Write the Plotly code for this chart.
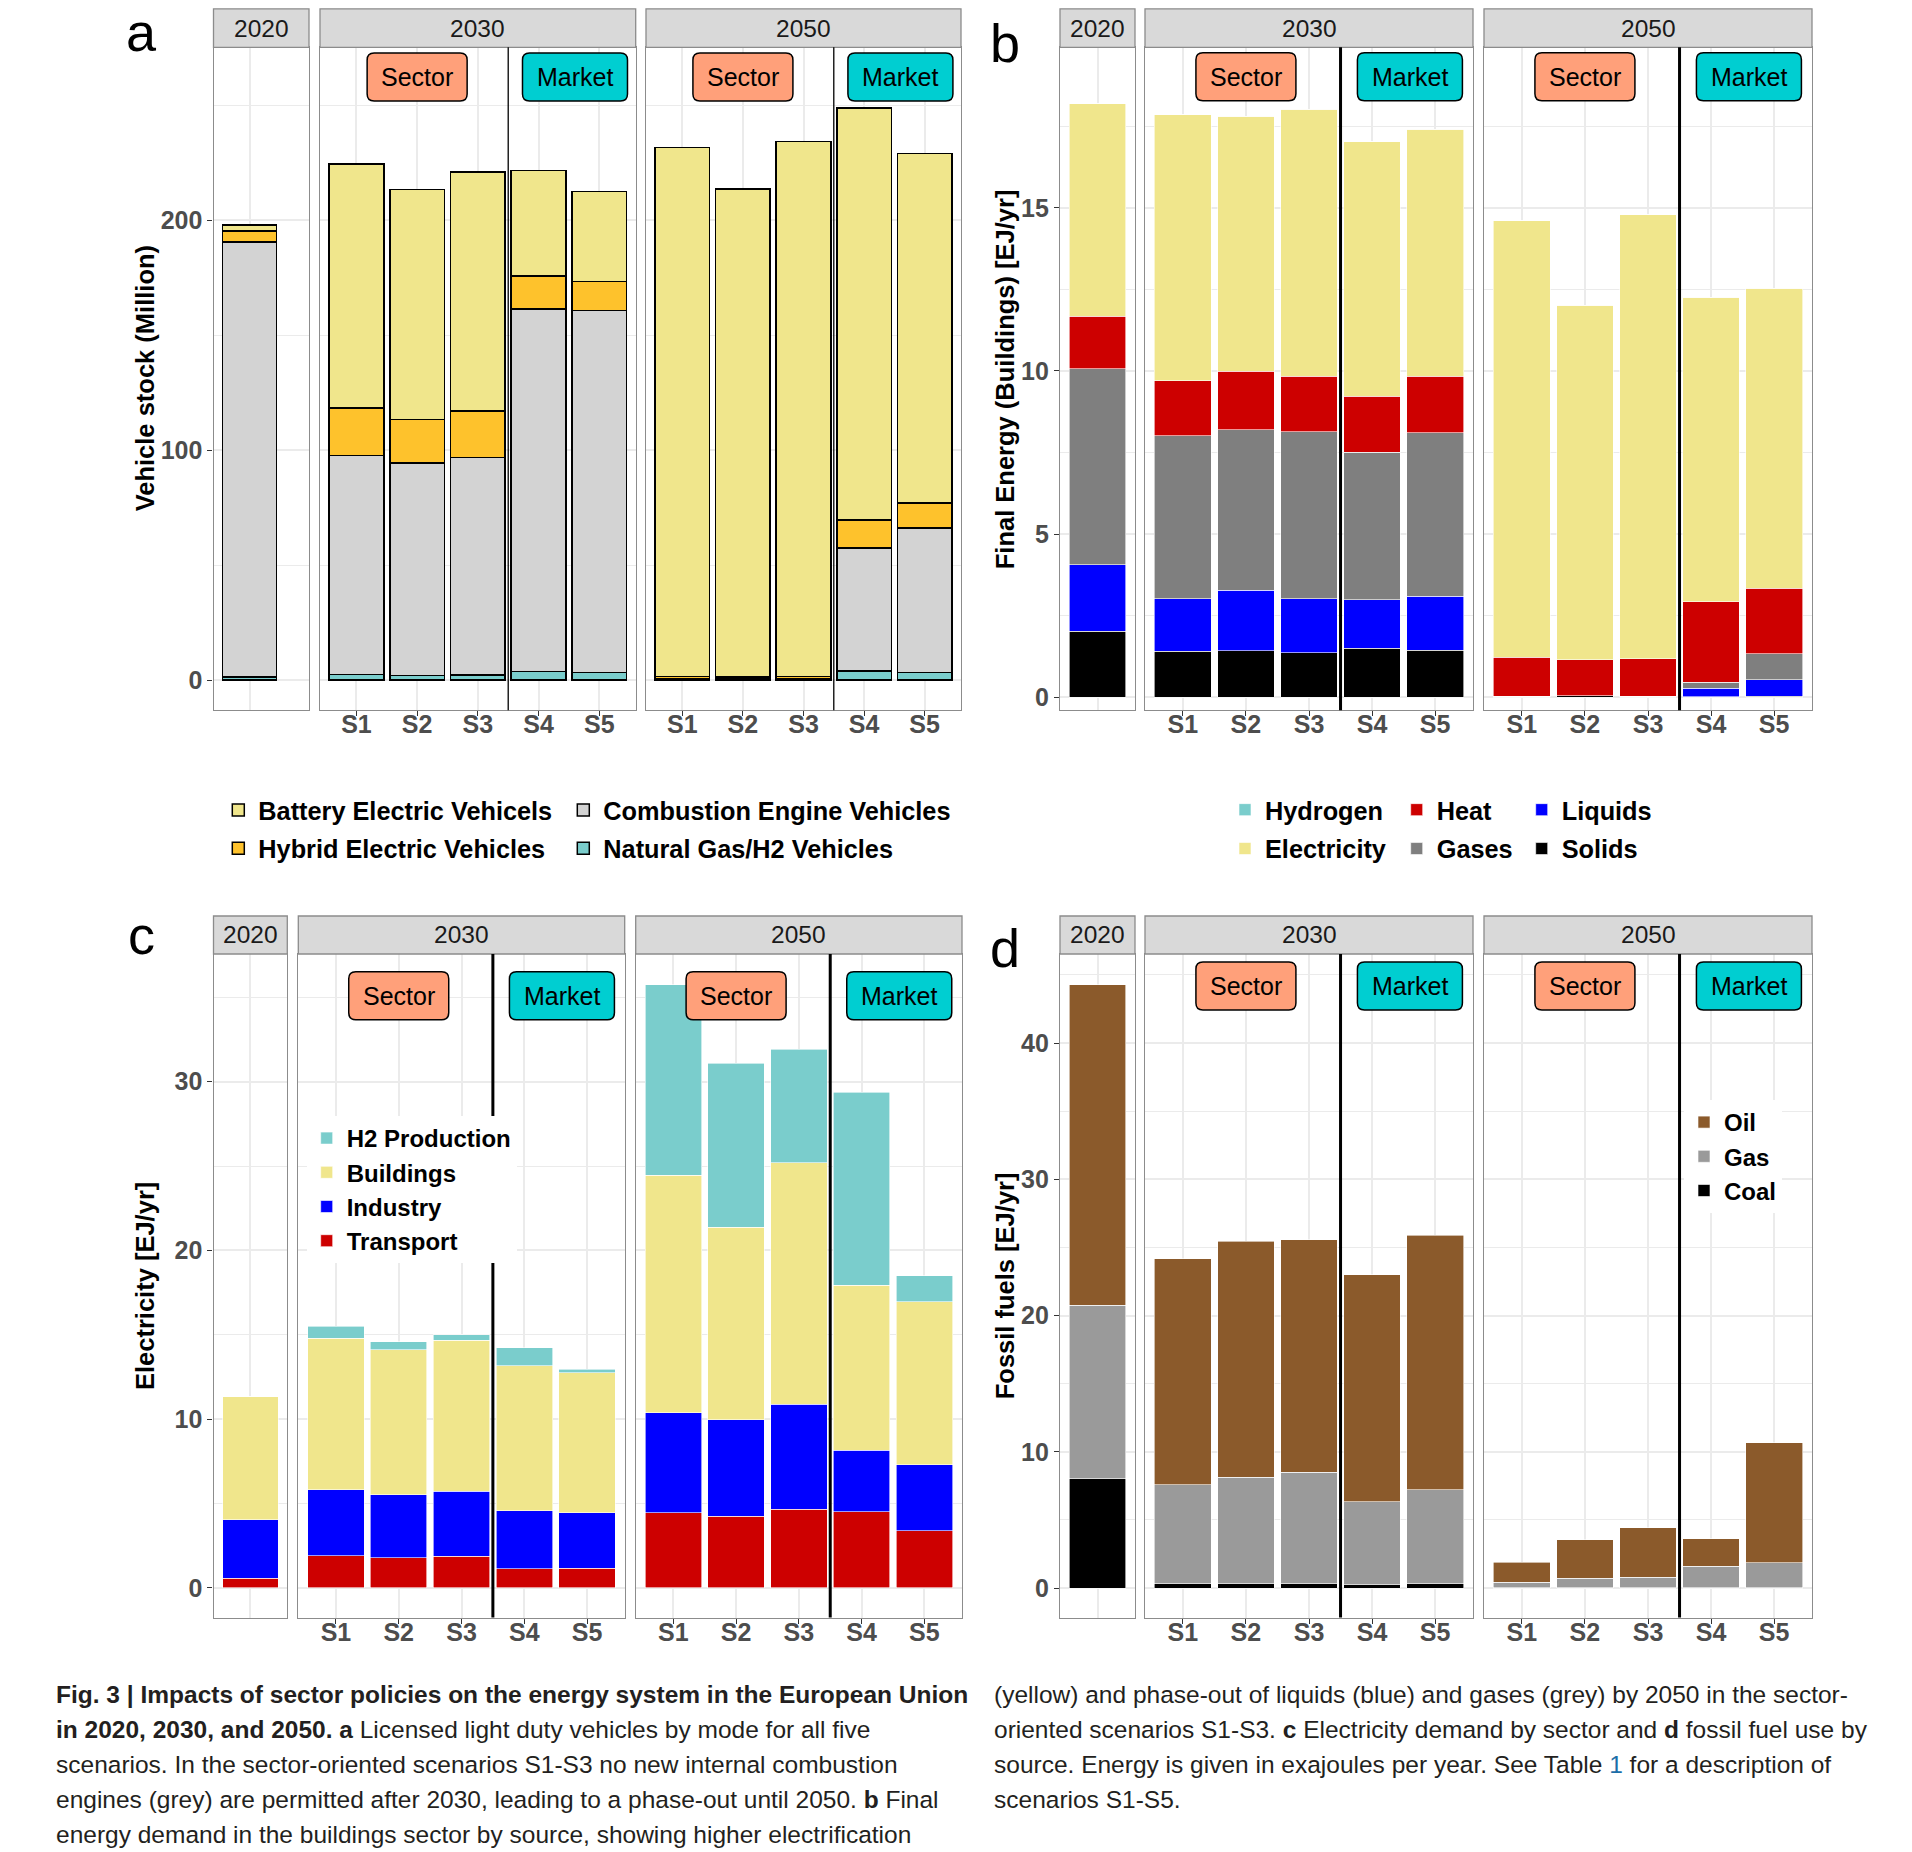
import plotly.graph_objects as go

W, H = 1912, 1852

# ---------------- data ----------------
years = ["2020", "2030", "2050"]
scenarios = ["S1", "S2", "S3", "S4", "S5"]
x_2020 = ["2020"]

# a: vehicle stock (million)
veh_ng = {"2020": [1.3], "2030": [2.5, 2.1, 2.3, 3.8, 3.2], "2050": [0.2, 0.2, 0.2, 4.0, 3.2]}
veh_ice = {"2020": [189.2], "2030": [95.3, 92.3, 94.6, 157.6, 157.6], "2050": [0.2, 0.2, 0.2, 53.5, 63.0]}
veh_hev = {"2020": [4.8], "2030": [20.5, 18.9, 20.2, 14.4, 12.7], "2050": [1.1, 1.0, 1.2, 12.1, 10.8]}
veh_bev = {"2020": [2.8], "2030": [106.3, 100.1, 103.9, 46.0, 39.0], "2050": [230.3, 212.2, 232.8, 179.4, 152.1]}

# b: final energy buildings (EJ/yr)
bld_solids = {"2020": [2.02], "2030": [1.41, 1.42, 1.36, 1.50, 1.44], "2050": [0.03, 0.05, 0.03, 0.02, 0.03]}
bld_liquids = {"2020": [2.04], "2030": [1.61, 1.86, 1.66, 1.49, 1.66], "2050": [0.0, 0.0, 0.0, 0.25, 0.51]}
bld_gases = {"2020": [6.01], "2030": [4.99, 4.92, 5.11, 4.51, 5.00], "2050": [0.0, 0.0, 0.0, 0.19, 0.79]}
bld_heat = {"2020": [1.61], "2030": [1.69, 1.79, 1.71, 1.72, 1.74], "2050": [1.20, 1.10, 1.15, 2.47, 2.01]}
bld_elec = {"2020": [6.51], "2030": [8.16, 7.82, 8.18, 7.80, 7.57], "2050": [13.37, 10.87, 13.61, 9.33, 9.19]}
bld_h2 = {"2020": [0.0], "2030": [0.0, 0.0, 0.0, 0.0, 0.0], "2050": [0.0, 0.0, 0.0, 0.0, 0.0]}

# c: electricity demand (EJ/yr)
el_transport = {"2020": [0.58], "2030": [1.92, 1.78, 1.88, 1.13, 1.16], "2050": [4.45, 4.25, 4.66, 4.52, 3.39]}
el_industry = {"2020": [3.46], "2030": [3.90, 3.73, 3.84, 3.46, 3.29], "2050": [5.93, 5.72, 6.23, 3.63, 3.90]}
el_buildings = {"2020": [7.30], "2030": [8.97, 8.60, 8.97, 8.59, 8.29], "2050": [14.07, 11.40, 14.32, 9.80, 9.66]}
el_h2 = {"2020": [0.0], "2030": [0.72, 0.48, 0.31, 1.07, 0.21], "2050": [11.30, 9.73, 6.71, 11.43, 1.54]}

# d: fossil fuels (EJ/yr)
ff_coal = {"2020": [8.06], "2030": [0.34, 0.34, 0.36, 0.25, 0.34], "2050": [0.02, 0.02, 0.02, 0.02, 0.02]}
ff_gas = {"2020": [12.69], "2030": [7.25, 7.81, 8.13, 6.07, 6.87], "2050": [0.40, 0.70, 0.79, 1.59, 1.85]}
ff_oil = {"2020": [23.54], "2030": [16.59, 17.31, 17.09, 16.68, 18.67], "2050": [1.49, 2.84, 3.60, 2.00, 8.78]}

group_labels = ["Sector", "Market"]

# ---------------- style ----------------
FONT = "Liberation Sans, Arial, sans-serif"
CAP_FONT = "Liberation Sans, Arial, sans-serif"
BORDER = "#8C8C8C"
GRID = "#EBEBEB"
TICKCOL = "#4D4D4D"

C_KHAKI = "#F0E68C"
C_HYB = "#FEC22C"
C_ICE = "#D3D3D3"
C_TEAL = "#7ACDCC"
C_RED = "#CD0000"
C_GASES = "#7F7F7F"
C_BLUE = "#0000FF"
C_BLACK = "#000000"
C_OIL = "#8B5A2B"
C_GAS = "#9A9A9A"
LABEL_FILL = {"Sector": "#FFA07A", "Market": "#00CED1"}

# geometry in picture pixels
TOP_PANEL = (47.3, 710.2)
TOP_STRIP = (8.8, 47.3)
BOT_PANEL = (954.0, 1617.5)
BOT_STRIP = (916.0, 954.0)
A_FACETS = [(213.5, 309.0), (320.0, 635.7), (646.0, 961.0)]
B_FACETS = [(1060.0, 1135.0), (1145.0, 1473.0), (1484.0, 1812.0)]
C_FACETS = [(213.5, 287.3), (298.3, 624.7), (635.7, 962.0)]

LETTER_SIZE = 54

panels = [
    dict(facets=A_FACETS, pane=TOP_PANEL, strip=TOP_STRIP, yrange=[-13.1, 275.3], dtick=100, mdtick=50,
         ytitle="Vehicle stock (Million)", ytitle_x=144.6, letter="a", letter_xb=(141, 50),
         label_y=262.4, line=("black", 1.5), sep_w=1.3, r2020=[-0.6, 0.99],
         series=[("Natural Gas/H2 Vehicles", C_TEAL, veh_ng, "legend2", 2),
                 ("Combustion Engine Vehicles", C_ICE, veh_ice, "legend2", 1),
                 ("Hybrid Electric Vehicles", C_HYB, veh_hev, "legend", 2),
                 ("Battery Electric Vehicels", C_KHAKI, veh_bev, "legend", 1)]),
    dict(facets=B_FACETS, pane=TOP_PANEL, strip=TOP_STRIP, yrange=[-0.4, 19.92], dtick=5, mdtick=2.5,
         ytitle="Final Energy (Buildings) [EJ/yr]", ytitle_x=1004.5, letter="b", letter_xb=(1005, 61),
         label_y=19.02, line=("white", 0.6), sep_w=3, r2020=[-0.6, 0.6],
         series=[("Solids", C_BLACK, bld_solids, "legend5", 2),
                 ("Liquids", C_BLUE, bld_liquids, "legend5", 1),
                 ("Gases", C_GASES, bld_gases, "legend4", 2),
                 ("Heat", C_RED, bld_heat, "legend4", 1),
                 ("Electricity", C_KHAKI, bld_elec, "legend3", 2),
                 ("Hydrogen", C_TEAL, bld_h2, "legend3", 1)]),
    dict(facets=C_FACETS, pane=BOT_PANEL, strip=BOT_STRIP, yrange=[-1.75, 37.57], dtick=10, mdtick=5,
         ytitle="Electricity [EJ/yr]", ytitle_x=144.3, letter="c", letter_xb=(141, 953),
         label_y=35.1, line=("white", 0.6), sep_w=3, r2020=[-0.6, 0.6],
         series=[("Transport", C_RED, el_transport, "legend6", 4),
                 ("Industry", C_BLUE, el_industry, "legend6", 3),
                 ("Buildings", C_KHAKI, el_buildings, "legend6", 2),
                 ("H2 Production", C_TEAL, el_h2, "legend6", 1)]),
    dict(facets=B_FACETS, pane=BOT_PANEL, strip=BOT_STRIP, yrange=[-2.16, 46.54], dtick=10, mdtick=5,
         ytitle="Fossil fuels [EJ/yr]", ytitle_x=1004.5, letter="d", letter_xb=(1005, 966),
         label_y=44.2, line=("white", 0.6), sep_w=3, r2020=[-0.6, 0.6],
         series=[("Coal", C_BLACK, ff_coal, "legend7", 3),
                 ("Gas", C_GAS, ff_gas, "legend7", 2),
                 ("Oil", C_OIL, ff_oil, "legend7", 1)]),
]

label_pos = {"Sector": 1.0, "Market": 3.6}
label_w = {"Sector": 100, "Market": 105}
LABEL_H = 48


def px(x):
    return x / W


def py(y):
    return 1 - y / H


def rrect(w, h, r):
    x0, x1, y0, y1 = -w / 2, w / 2, -h / 2, h / 2
    return (f"M{x0 + r},{y0} L{x1 - r},{y0} Q{x1},{y0} {x1},{y0 + r} L{x1},{y1 - r} "
            f"Q{x1},{y1} {x1 - r},{y1} L{x0 + r},{y1} Q{x0},{y1} {x0},{y1 - r} "
            f"L{x0},{y0 + r} Q{x0},{y0} {x0 + r},{y0} Z")


fig = go.Figure()
layout_axes = {}
shapes = []
annotations = []

for p_i, P in enumerate(panels):
    ptop, pbot = P["pane"]
    stop, sbot = P["strip"]
    for f_i, yr in enumerate(years):
        idx = p_i * 3 + f_i + 1
        sfx = "" if idx == 1 else str(idx)
        xa, ya = "x" + sfx, "y" + sfx
        xs = x_2020 if yr == "2020" else scenarios
        for name, color, data, leg, rank in P["series"]:
            fig.add_trace(go.Bar(
                x=xs, y=data[yr], name=name, width=0.9,
                marker=dict(color=color, line=dict(color=P["line"][0], width=P["line"][1])),
                xaxis=xa, yaxis=ya, legend=leg, legendgroup=name, legendrank=rank,
                showlegend=(f_i == 0),
            ))
        x0, x1 = P["facets"][f_i]
        is2020 = yr == "2020"
        layout_axes["xaxis" + sfx] = dict(
            domain=[px(x0), px(x1)], anchor=ya, type="category",
            range=P["r2020"] if is2020 else [-0.6, 4.6],
            showgrid=True, gridcolor=GRID, gridwidth=1.5, zeroline=False,
            showline=True, mirror=True, linecolor=BORDER, linewidth=1.3,
            ticks="" if is2020 else "outside", ticklen=5, tickwidth=1.3, tickcolor="#333333",
            showticklabels=not is2020, ticklabelstandoff=-13,
            tickfont=dict(family=FONT, size=25, color=TICKCOL, weight="bold"),
            fixedrange=True,
        )
        layout_axes["yaxis" + sfx] = dict(
            domain=[py(pbot), py(ptop)], anchor=xa, range=P["yrange"],
            tick0=0, dtick=P["dtick"],
            minor=dict(tick0=0, dtick=P["mdtick"], showgrid=True, gridcolor=GRID, gridwidth=0.8),
            showgrid=True, gridcolor=GRID, gridwidth=1.5, zeroline=False,
            showline=True, mirror=True, linecolor=BORDER, linewidth=1.3,
            ticks="outside" if is2020 else "", ticklen=5, tickwidth=1.3, tickcolor="#333333",
            showticklabels=is2020,
            tickfont=dict(family=FONT, size=25, color=TICKCOL, weight="bold"),
            fixedrange=True,
        )
        # facet strip
        shapes.append(dict(type="rect", xref="paper", yref="paper",
                           x0=px(x0), x1=px(x1), y0=py(sbot), y1=py(stop),
                           fillcolor="#D9D9D9", line=dict(color=BORDER, width=1.3), layer="above"))
        annotations.append(dict(xref="paper", yref="paper", x=px((x0 + x1) / 2), y=py((stop + sbot) / 2),
                                text=yr, showarrow=False, xanchor="center", yanchor="middle",
                                font=dict(family=FONT, size=24.5, color="#1A1A1A")))
        if not is2020:
            shapes.append(dict(type="line", xref=xa, yref=ya + " domain", x0=2.5, x1=2.5, y0=0, y1=1,
                               line=dict(color="black", width=P["sep_w"]), layer="above"))
            for lab in group_labels:
                shapes.append(dict(type="path", xref=xa, yref=ya, xsizemode="pixel", ysizemode="pixel",
                                   xanchor=label_pos[lab], yanchor=P["label_y"],
                                   path=rrect(label_w[lab], LABEL_H, 7),
                                   fillcolor=LABEL_FILL[lab], line=dict(color="black", width=1.5),
                                   layer="above"))
                annotations.append(dict(xref=xa, yref=ya, x=label_pos[lab], y=P["label_y"], text=lab,
                                        showarrow=False, xanchor="center", yanchor="middle",
                                        font=dict(family=FONT, size=25, color="black")))
    # y title
    annotations.append(dict(xref="paper", yref="paper", x=px(P["ytitle_x"]), y=py((ptop + pbot) / 2),
                            text="<b>" + P["ytitle"] + "</b>", textangle=-90, showarrow=False,
                            xanchor="center", yanchor="middle",
                            font=dict(family=FONT, size=25.5, color="black")))
    # panel letter (positioned by its baseline, box kept inside the picture)
    lx, lb = P["letter_xb"]
    ltop = max(0.5, lb - 0.905 * LETTER_SIZE - 1)
    annotations.append(dict(xref="paper", yref="paper", x=px(lx), y=py(ltop), text=P["letter"],
                            showarrow=False, xanchor="center", yanchor="top",
                            font=dict(family=FONT, size=LETTER_SIZE, color="black")))

# ---------------- caption ----------------
cap_left = [
    "<b>Fig. 3 | Impacts of sector policies on the energy system in the European Union</b>",
    "<b>in 2020, 2030, and 2050. a</b> Licensed light duty vehicles by mode for all five",
    "scenarios. In the sector-oriented scenarios S1-S3 no new internal combustion",
    "engines (grey) are permitted after 2030, leading to a phase-out until 2050. <b>b</b> Final",
    "energy demand in the buildings sector by source, showing higher electrification",
]
cap_right = [
    "(yellow) and phase-out of liquids (blue) and gases (grey) by 2050 in the sector-",
    "oriented scenarios S1-S3. <b>c</b> Electricity demand by sector and <b>d</b> fossil fuel use by",
    "source. Energy is given in exajoules per year. See Table <span style='color:#1C6EA8'>1</span> for a description of",
    "scenarios S1-S5.",
]
CAP_Y0, CAP_DY = 1694.0, 35.0
for col_x, lines in ((54.0, cap_left), (991.5, cap_right)):
    for i, t in enumerate(lines):
        annotations.append(dict(xref="paper", yref="paper", x=px(col_x), y=py(CAP_Y0 + i * CAP_DY),
                                text=t, showarrow=False, xanchor="left", yanchor="middle",
                                font=dict(family=CAP_FONT, size=24.5, color="#231F20")))


# ---------------- legends ----------------
def legend_cfg(text_x, top, size, gap, bg):
    return dict(x=px(text_x - 40), y=py(top), xanchor="left", yanchor="top", orientation="v",
                font=dict(family=FONT, size=size, color="black", weight="bold"),
                bgcolor=bg, borderwidth=0, traceorder="grouped", tracegroupgap=gap,
                itemclick=False, itemdoubleclick=False)


TRANSP = "rgba(0,0,0,0)"
legends = dict(
    legend=legend_cfg(258.3, 787.0, 25.3, 2.5, TRANSP),
    legend2=legend_cfg(603.3, 787.0, 25.3, 2.5, TRANSP),
    legend3=legend_cfg(1265.0, 786.7, 25.3, 3.0, TRANSP),
    legend4=legend_cfg(1436.7, 786.7, 25.3, 3.0, TRANSP),
    legend5=legend_cfg(1561.7, 786.7, 25.3, 3.0, TRANSP),
    legend6=legend_cfg(346.7, 1116.0, 24, 0, "white"),
    legend7=legend_cfg(1724.0, 1100.0, 24, 0, "white"),
)

fig.update_layout(
    width=W, height=H, margin=dict(l=0, r=0, t=0, b=0),
    paper_bgcolor="white", plot_bgcolor="white",
    barmode="stack", bargap=0.1, showlegend=True, hovermode=False,
    font=dict(family=FONT, color="black"),
    shapes=shapes, annotations=annotations,
    **layout_axes, **legends,
)

# let the figure fill the page exactly (no default body margin), no mode bar
fig.write_html("out.html", config={"displayModeBar": False},
               post_script="document.body.style.margin='0';document.body.style.overflow='hidden';")
